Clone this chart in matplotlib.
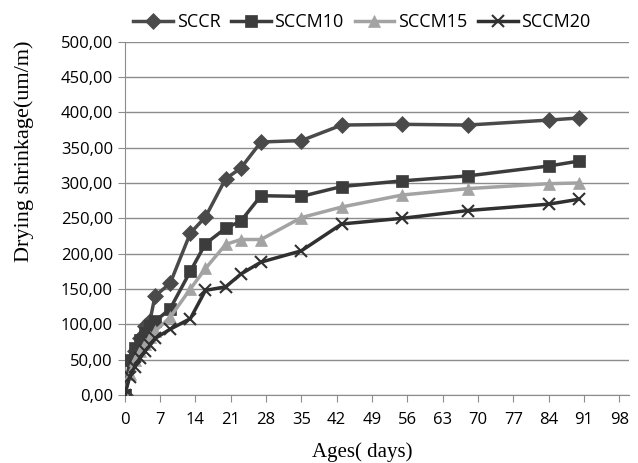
import matplotlib.pyplot as plt
from matplotlib.ticker import FuncFormatter, MultipleLocator

days = [0, 1, 2, 3, 4, 5, 6, 9, 13, 16, 20, 23, 27, 35, 43, 55, 68, 84, 90]
sccr = [0, 47, 62, 80, 97, 105, 140, 158, 229, 252, 306, 321, 358, 360, 382, 383, 382, 389, 392]
sccm10 = [0, 50, 66, 78, 88, 97, 104, 122, 175, 214, 236, 246, 282, 281, 295, 303, 310, 324, 331]
sccm15 = [0, 30, 50, 62, 72, 82, 90, 110, 150, 179, 213, 220, 220, 251, 266, 283, 292, 299, 300]
sccm20 = [0, 26, 40, 52, 62, 70, 80, 93, 108, 148, 153, 171, 188, 204, 242, 250, 261, 270, 277]

series = [
    ("SCCR", sccr, "#4a4a4a", "D", 8),
    ("SCCM10", sccm10, "#3c3c3c", "s", 9),
    ("SCCM15", sccm15, "#a3a3a3", "^", 9),
    ("SCCM20", sccm20, "#303030", "x", 9),
]

tick_font = "Open Sans"
label_font = "Liberation Serif"

fig = plt.figure(figsize=(6.38, 4.63), dpi=100)
ax = fig.add_axes([0.1955, 0.147, 0.791, 0.763])

for name, vals, col, mk, ms in series:
    ax.plot(days, vals, color=col, marker=mk, markersize=ms, linewidth=2.5,
            markeredgewidth=1.5 if mk == "x" else 0.5, markeredgecolor=col,
            label=name, zorder=3)

ax.set_xlim(0, 100)
ax.set_ylim(0, 500)
ax.set_xticks(range(0, 99, 7))
ax.yaxis.set_major_locator(MultipleLocator(50))
ax.yaxis.set_major_formatter(FuncFormatter(lambda v, p: f"{v:.2f}".replace(".", ",")))

ax.grid(axis="y", color="#8c8c8c", linewidth=1)
ax.set_axisbelow(True)
for s in ["top", "right"]:
    ax.spines[s].set_visible(False)
for s in ["left", "bottom"]:
    ax.spines[s].set_color("#8c8c8c")
ax.tick_params(axis="both", colors="#8c8c8c", length=5, labelcolor="black", labelsize=12)
ax.tick_params(axis="x", pad=7)
for lab in ax.get_xticklabels() + ax.get_yticklabels():
    lab.set_family(tick_font)

ax.set_xlabel("Ages( days)", family=label_font, fontsize=15)
ax.set_ylabel("Drying shrinkage(um/m)", family=label_font, fontsize=16)
ax.xaxis.set_label_coords(0.47, -0.135)
ax.yaxis.set_label_coords(-0.18, 0.69)

leg = ax.legend(loc="lower center", bbox_to_anchor=(0.47, 1.0), ncol=4, frameon=False,
                prop={"family": tick_font, "size": 13}, handlelength=2.2,
                handletextpad=0.2, columnspacing=0.6, borderaxespad=0.2)

plt.savefig("out.png", dpi=100)
